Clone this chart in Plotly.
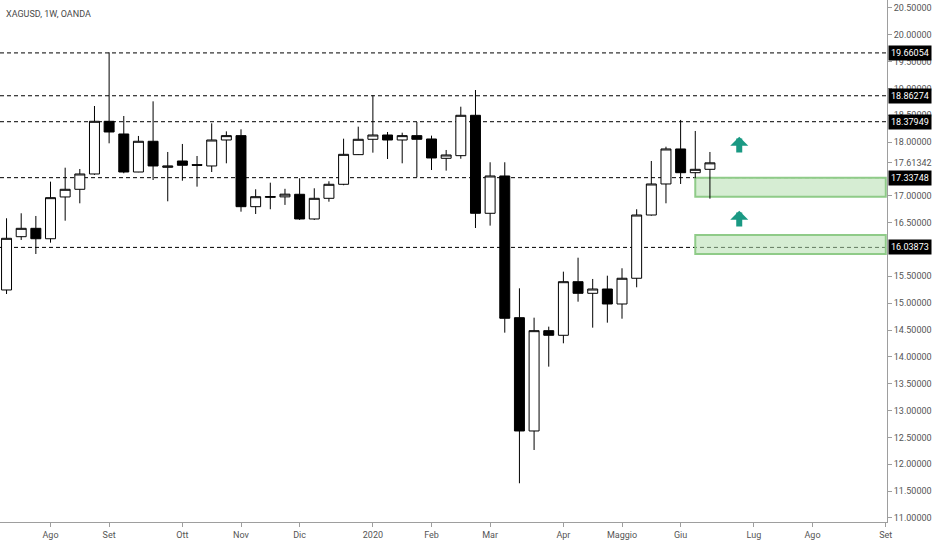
import plotly.graph_objects as go

# weekly bars, XAGUSD (OANDA), dated on the Monday
weeks = [
    "2019-07-15", "2019-07-22", "2019-07-29", "2019-08-05", "2019-08-12", "2019-08-19",
    "2019-08-26", "2019-09-02", "2019-09-09", "2019-09-16", "2019-09-23", "2019-09-30",
    "2019-10-07", "2019-10-14", "2019-10-21", "2019-10-28", "2019-11-04", "2019-11-11",
    "2019-11-18", "2019-11-25", "2019-12-02", "2019-12-09", "2019-12-16", "2019-12-23",
    "2019-12-30", "2020-01-06", "2020-01-13", "2020-01-20", "2020-01-27", "2020-02-03",
    "2020-02-10", "2020-02-17", "2020-02-24", "2020-03-02", "2020-03-09", "2020-03-16",
    "2020-03-23", "2020-03-30", "2020-04-06", "2020-04-13", "2020-04-20", "2020-04-27",
    "2020-05-04", "2020-05-11", "2020-05-18", "2020-05-25", "2020-06-01", "2020-06-08",
    "2020-06-15",
]
opens = [
    15.246, 16.238, 16.394, 16.200, 16.978, 17.121, 17.406, 18.387, 18.151, 17.443,
    18.015, 17.530, 17.648, 17.580, 17.555, 18.039, 18.120, 16.797, 16.970, 16.980,
    17.028, 16.568, 16.953, 17.214, 17.766, 18.052, 18.132, 18.039, 18.120, 18.058,
    17.698, 17.747, 18.499, 16.674, 17.369, 14.730, 12.620, 14.488, 14.402, 15.400,
    15.184, 15.264, 14.985, 15.464, 16.642, 17.220, 17.872, 17.430, 17.493,
]
highs = [
    16.581, 16.674, 16.624, 17.263, 17.523, 17.499, 18.672, 19.672, 18.486, 18.114,
    18.759, 17.816, 17.965, 17.741, 18.350, 18.200, 18.238, 17.121, 17.244, 17.130,
    17.326, 17.140, 17.270, 18.063, 18.287, 18.871, 18.188, 18.175, 18.374, 18.120,
    17.853, 18.659, 18.970, 17.624, 17.624, 15.277, 14.730, 14.563, 15.587, 15.847,
    15.451, 15.512, 15.650, 16.749, 17.648, 17.914, 18.412, 18.207, 17.816,
]
lows = [
    15.171, 16.177, 15.916, 16.127, 16.536, 16.860, 17.390, 17.977, 17.419, 17.440,
    17.294, 16.897, 17.281, 17.170, 17.443, 17.605, 16.704, 16.661, 16.749, 16.830,
    16.550, 16.550, 16.890, 17.196, 17.760, 17.803, 17.685, 17.605, 17.344, 17.480,
    17.468, 17.690, 16.400, 16.444, 14.451, 11.646, 12.266, 13.818, 14.253, 15.028,
    14.544, 14.637, 14.711, 15.296, 16.630, 16.860, 17.220, 17.326, 16.946,
]
closes = [
    16.208, 16.394, 16.200, 16.965, 17.121, 17.406, 18.387, 18.188, 17.443, 18.015,
    17.555, 17.555, 17.568, 17.568, 18.039, 18.120, 16.797, 16.983, 16.985, 17.030,
    16.568, 16.953, 17.214, 17.772, 18.052, 18.132, 18.039, 18.120, 18.052, 17.704,
    17.760, 18.499, 16.674, 17.369, 14.719, 12.620, 14.488, 14.402, 15.400, 15.184,
    15.264, 14.985, 15.464, 16.642, 17.220, 17.872, 17.430, 17.493, 17.61342,
]

# drawn levels and zones
levels = [19.66054, 18.86274, 18.37949, 17.33748, 16.03873]
zone_start = "2020-06-08"
zone_end = "2020-09-07"
zone_tops = [17.33748, 16.270]
zone_bottoms = [16.983, 15.916]
arrow_date = "2020-06-29"
arrow_tips = [18.10, 16.72]
arrow_tails = [17.78, 16.40]

# axis labels
month_dates = [
    "2019-08-05", "2019-09-02", "2019-10-07", "2019-11-04", "2019-12-02", "2020-01-06",
    "2020-02-03", "2020-03-02", "2020-04-06", "2020-05-04", "2020-06-01", "2020-07-06",
    "2020-08-03", "2020-09-07",
]
month_labels = ["Ago", "Set", "Ott", "Nov", "Dic", "2020", "Feb", "Mar", "Apr",
                "Maggio", "Giu", "Lug", "Ago", "Set"]
price_ticks = [11.0, 11.5, 12.0, 12.5, 13.0, 13.5, 14.0, 14.5, 15.0, 15.5, 16.5,
               17.0, 17.61342, 18.0, 18.5, 19.0, 19.5, 20.0, 20.5]

FONT = "Roboto, sans-serif"

fig = go.Figure()
fig.add_trace(go.Candlestick(
    x=weeks, open=opens, high=highs, low=lows, close=closes,
    increasing=dict(fillcolor="white", line=dict(color="#000000", width=1)),
    decreasing=dict(fillcolor="#000000", line=dict(color="#000000", width=1)),
    whiskerwidth=0, showlegend=False,
))

# green zones (under the candles)
for top, bot in zip(zone_tops, zone_bottoms):
    fig.add_shape(type="rect", xref="x", yref="y", x0=zone_start, x1=zone_end,
                  y0=bot, y1=top, layer="below",
                  fillcolor="rgba(180,222,175,0.55)",
                  line=dict(color="#8fcb88", width=2))

# dashed horizontal levels + black price tags
for lv in levels:
    fig.add_shape(type="line", xref="paper", yref="y", x0=0, x1=1, y0=lv, y1=lv,
                  layer="below", line=dict(color="#000000", width=1, dash="4px,3px"))
    fig.add_annotation(xref="paper", yref="y", x=1, y=lv, xanchor="left", xshift=1,
                       text=f"{lv:.5f}", showarrow=False, bgcolor="#000000",
                       borderpad=2, font=dict(family=FONT, size=9, color="white"))

for tip, tail in zip(arrow_tips, arrow_tails):
    fig.add_annotation(x=arrow_date, y=tip, ax=arrow_date, ay=tail,
                       xref="x", yref="y", axref="x", ayref="y", text="",
                       showarrow=True, arrowhead=1, arrowsize=0.5, arrowwidth=6,
                       arrowcolor="#1a9983")

fig.add_annotation(xref="paper", yref="paper", x=0, y=1, xanchor="left", yanchor="top",
                   xshift=4, yshift=-7, text="XAGUSD, 1W, OANDA", showarrow=False,
                   font=dict(family=FONT, size=9, color="#4a4a4a"))

fig.update_layout(
    width=932, height=550,
    margin=dict(l=0, r=45, t=0, b=28),
    paper_bgcolor="white", plot_bgcolor="white",
    boxgap=0.32, boxgroupgap=0.0,
    font=dict(family=FONT, size=9, color="#555555"),
    xaxis=dict(
        type="date", range=["2019-07-11 21:00", "2020-09-07 14:00"],
        tickvals=month_dates, ticktext=month_labels,
        showgrid=False, zeroline=False, showline=True, linecolor="#9e9e9e",
        ticks="outside", ticklen=4, tickcolor="#9e9e9e",
        rangeslider=dict(visible=False), fixedrange=True,
    ),
    yaxis=dict(
        side="right", range=[10.925, 20.646],
        tickvals=price_ticks, tickformat=".5f",
        showgrid=False, zeroline=False, showline=True, linecolor="#9e9e9e",
        ticks="outside", ticklen=4, tickcolor="#9e9e9e",
    ),
)

fig.write_html("out.html", config={"displayModeBar": False},
               post_script="document.body.style.margin='0';")
